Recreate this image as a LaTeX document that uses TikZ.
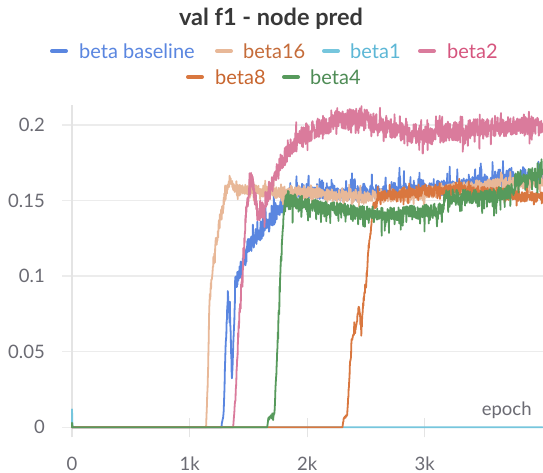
\documentclass[tikz,border=0pt]{standalone}
\usepackage{fontspec}
\setmainfont{Lato}
\definecolor{cBlue}{HTML}{5A86E0}
\definecolor{cPeach}{HTML}{E8B898}
\definecolor{cCyan}{HTML}{76C6DD}
\definecolor{cPink}{HTML}{DA7B9C}
\definecolor{cOrange}{HTML}{D9773F}
\definecolor{cGreen}{HTML}{579A5C}
\definecolor{tBlue}{HTML}{5A86E0}
\definecolor{tPeach}{HTML}{C56C3A}
\definecolor{tCyan}{HTML}{5DB7D6}
\definecolor{tPink}{HTML}{D6557E}
\definecolor{tOrange}{HTML}{C8662F}
\definecolor{tGreen}{HTML}{4E8C55}
\definecolor{gridgray}{HTML}{ECECEC}
\definecolor{axisgray}{HTML}{E4E4E4}
\definecolor{labgray}{HTML}{6B6B73}
\definecolor{titlegray}{HTML}{383838}

% noisy series: style, spike bias, list of x/y/amplitude triples;
% a linear trend between the triples plus jitter with occasional spikes
\newcommand\noisyseries[3]{%
  \draw[curve,#1] (0,0)
    \foreach \x/\y/\a [remember=\x as \px (initially 0),
                       remember=\y as \py (initially 0),
                       remember=\a as \pa (initially 0),
                       evaluate=\x as \n using {int(max(1,(\x-\px)*420))}] in {#3}
    { \foreach \i in {1,...,\n}
      { -- ({\px+(\x-\px)*\i/\n},
            {\py+(\y-\py)*\i/\n+(\pa+(\a-\pa)*\i/\n)*(0.75*rand+1.4*rnd^5*(rand+#2))}) } };
}

\begin{document}
\begin{tikzpicture}[x=1pt,y=-1pt,
  gridline/.style={draw=gridgray,line width=1.3pt},
  axisline/.style={draw=axisgray,line width=2.6pt},
  tickline/.style={draw=axisgray,line width=1.3pt},
  curve/.style={line width=1.8pt,line join=round,line cap=round},
  ticklab/.style={text=labgray,font=\fontsize{18.5}{18.5}\selectfont,inner sep=0pt},
  legtext/.style={anchor=west,inner sep=0pt,font=\fontsize{20}{20}\selectfont},
  legmark/.style={line width=4pt,line cap=round}]

\useasboundingbox[fill=white] (0,0) rectangle (543,473);

% title and legend
\node[font=\bfseries\fontsize{23.5}{23.5}\selectfont,text=titlegray] (title) at (271,19) {val f1 - node pred};

\draw[legmark,cBlue]   (52,51) -- (66,51);
\node[legtext,text=tBlue]   (lbase) at (79,51)  {beta baseline};
\draw[legmark,cPeach]  (217,51) -- (231,51);
\node[legtext,text=tPeach]  (l16)   at (243,51) {beta16};
\draw[legmark,cCyan]   (324,51) -- (338,51);
\node[legtext,text=tCyan]   (l1)    at (350,51) {beta1};
\draw[legmark,cPink]   (420,51) -- (434,51);
\node[legtext,text=tPink]   (l2)    at (447,51) {beta2};
\draw[legmark,cOrange] (188,77) -- (202,77);
\node[legtext,text=tOrange] (l8)    at (215,77) {beta8};
\draw[legmark,cGreen]  (284,77) -- (298,77);
\node[legtext,text=tGreen]  (l4)    at (310,77) {beta4};

% plot area in data units: x in thousands of epochs, y in f1
\begin{scope}[shift={(72,427.3)},x=117.6pt,y=1512pt]
  \clip (-0.62,-0.04) rectangle (4.005,0.23);
  \foreach \v in {0,0.05,0.1,0.15,0.2}
    \draw[gridline] (-0.085,\v) -- (4.01,\v);
  \draw[axisline] (0,-0.0066) -- (0,0.213);
  \foreach \k in {1,2,3}
    \draw[tickline] (\k,-0.0066) -- (\k,0.006);

  \node[ticklab,anchor=east] (y0)   at (-0.23,0)    {0};
  \node[ticklab,anchor=east] (y05)  at (-0.23,0.05) {0.05};
  \node[ticklab,anchor=east] (y10)  at (-0.23,0.1)  {0.1};
  \node[ticklab,anchor=east] (y15)  at (-0.23,0.15) {0.15};
  \node[ticklab,anchor=east] (y20)  at (-0.23,0.2)  {0.2};
  \node[ticklab,anchor=base] (x0)   at (0,-0.0285)  {0};
  \node[ticklab,anchor=base] (x1)   at (1,-0.0285)  {1k};
  \node[ticklab,anchor=base] (x2)   at (2,-0.0285)  {2k};
  \node[ticklab,anchor=base] (x3)   at (3,-0.0285)  {3k};
  \node[ticklab,anchor=east] (xlab) at (3.91,0.0115) {epoch};

  \pgfmathsetseed{4711}
  \noisyseries{cBlue}{0.8}{0/0/0, 1.27/0/0, 1.29/0.01/0.002, 1.31/0.06/0.006,
    1.325/0.085/0.006, 1.345/0.07/0.006, 1.36/0.03/0.005, 1.375/0.06/0.006,
    1.39/0.095/0.007, 1.43/0.1/0.008, 1.5/0.118/0.008, 1.6/0.128/0.008,
    1.7/0.137/0.007, 1.8/0.147/0.006, 1.87/0.153/0.006, 2.0/0.155/0.006,
    2.3/0.154/0.006, 2.6/0.155/0.006, 3.0/0.156/0.006, 3.3/0.159/0.006,
    3.6/0.163/0.006, 4.0/0.165/0.006}
  \noisyseries{cPeach}{0}{0/0/0, 1.14/0/0, 1.155/0.03/0.004, 1.17/0.085/0.005,
    1.19/0.1/0.005, 1.22/0.118/0.006, 1.26/0.138/0.006, 1.3/0.153/0.006,
    1.34/0.162/0.006, 1.4/0.157/0.005, 1.6/0.156/0.005, 2.0/0.155/0.005,
    2.5/0.152/0.005, 2.8/0.153/0.005, 3.2/0.157/0.005, 3.6/0.161/0.005,
    4.0/0.163/0.005}
  \draw[curve,cCyan] (0,0) -- (0,0.012) -- (0.004,0) -- (4.0,0);
  \noisyseries{cPink}{0}{0/0/0, 1.37/0/0, 1.39/0.02/0.004, 1.42/0.07/0.007,
    1.45/0.1/0.008, 1.48/0.14/0.009, 1.51/0.158/0.009, 1.53/0.163/0.009,
    1.56/0.15/0.009, 1.59/0.14/0.009, 1.63/0.146/0.009, 1.7/0.16/0.009,
    1.78/0.176/0.009, 1.88/0.187/0.009, 2.0/0.195/0.009, 2.2/0.202/0.009,
    2.4/0.206/0.009, 2.6/0.2/0.009, 2.85/0.194/0.009, 3.1/0.194/0.009,
    3.4/0.197/0.009, 3.7/0.199/0.009, 4.0/0.2/0.009}
  \noisyseries{cOrange}{0}{0/0/0, 2.30/0/0, 2.31/0.006/0.001, 2.34/0.008/0.001,
    2.36/0.035/0.004, 2.38/0.058/0.004, 2.42/0.066/0.005, 2.44/0.08/0.005,
    2.46/0.062/0.005, 2.48/0.085/0.005, 2.5/0.095/0.004, 2.53/0.125/0.004,
    2.56/0.145/0.005, 2.6/0.152/0.005, 2.8/0.155/0.005, 3.0/0.156/0.005,
    3.3/0.157/0.005, 3.6/0.155/0.005, 3.8/0.153/0.005, 4.0/0.152/0.005}
  \noisyseries{cGreen}{-0.8}{0/0.003/0, 0.005/0/0, 1.66/0/0, 1.67/0.006/0.001,
    1.72/0.009/0.002, 1.74/0.04/0.004, 1.77/0.1/0.005, 1.8/0.14/0.006,
    1.82/0.153/0.006, 1.9/0.15/0.006, 2.1/0.146/0.006, 2.4/0.143/0.006,
    2.7/0.141/0.006, 3.0/0.143/0.006, 3.15/0.144/0.006, 3.17/0.153/0.006,
    3.55/0.153/0.006, 3.72/0.156/0.006, 3.78/0.164/0.007, 3.9/0.166/0.007,
    4.0/0.173/0.007}
\end{scope}
\end{tikzpicture}
\end{document}
